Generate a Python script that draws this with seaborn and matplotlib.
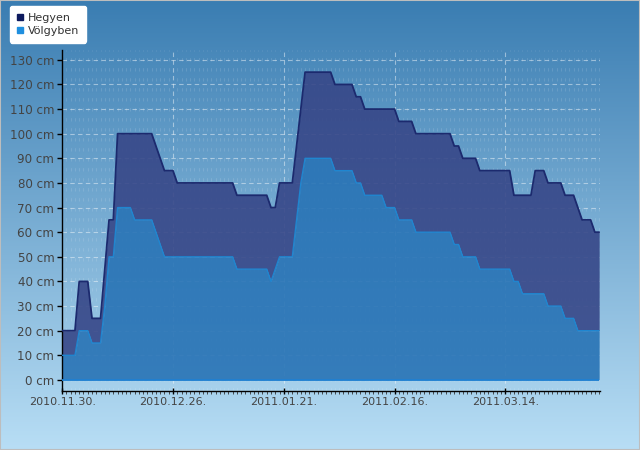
import numpy as np
import pandas as pd
import matplotlib
matplotlib.use("Agg")
import matplotlib.pyplot as plt
import matplotlib.dates as mdates
import seaborn as sns
from matplotlib.lines import Line2D
from matplotlib.patches import Rectangle
from matplotlib.colors import LinearSegmentedColormap

# napi hóvastagság (cm), 2010.11.30-tól
kezdo_datum = "2010-11-30"
hegyen = [20, 20, 20, 20, 40, 40, 40, 25, 25, 25, 45, 65, 65,
          100, 100, 100, 100, 100, 100, 100, 100, 100, 95, 90, 85, 85, 85,
          80, 80, 80, 80, 80, 80, 80, 80, 80, 80, 80, 80, 80, 80,
          75, 75, 75, 75, 75, 75, 75, 75, 70, 70, 80, 80, 80, 80, 95, 110,
          125, 125, 125, 125, 125, 125, 125, 120, 120, 120, 120, 120, 115, 115,
          110, 110, 110, 110, 110, 110, 110, 110, 105, 105, 105, 105,
          100, 100, 100, 100, 100, 100, 100, 100, 100, 95, 95, 90, 90, 90, 90,
          85, 85, 85, 85, 85, 85, 85, 85, 75, 75, 75, 75, 75, 85, 85, 85,
          80, 80, 80, 80, 75, 75, 75, 70, 65, 65, 65, 60, 60]
volgyben = [10, 10, 10, 10, 20, 20, 20, 15, 15, 15, 30, 50, 50,
            70, 70, 70, 70, 65, 65, 65, 65, 65, 60, 55,
            50, 50, 50, 50, 50, 50, 50, 50, 50, 50, 50, 50, 50, 50, 50, 50, 50,
            45, 45, 45, 45, 45, 45, 45, 45, 40, 45, 50, 50, 50, 50, 65, 80,
            90, 90, 90, 90, 90, 90, 90, 85, 85, 85, 85, 85, 80, 80,
            75, 75, 75, 75, 75, 70, 70, 70, 65, 65, 65, 65,
            60, 60, 60, 60, 60, 60, 60, 60, 60, 55, 55, 50, 50, 50, 50,
            45, 45, 45, 45, 45, 45, 45, 45, 40, 40, 35, 35, 35, 35, 35, 35,
            30, 30, 30, 30, 25, 25, 25, 20, 20, 20, 20, 20, 20]
tick_datumok = ["2010-11-30", "2010-12-26", "2011-01-21", "2011-02-16", "2011-03-14"]
y_ertekek = list(range(0, 131, 10))

datumok = pd.date_range(kezdo_datum, periods=len(hegyen), freq="D")
df = pd.DataFrame({"datum": datumok, "Hegyen": hegyen, "Völgyben": volgyben})

sns.set_theme(style="white")
plt.rcParams['font.family'] = ['DejaVu Sans']

fig = plt.figure(figsize=(6.4, 4.5), dpi=100)

# háttér színátmenet
bg = fig.add_axes([0, 0, 1, 1], zorder=-10)
cmap = LinearSegmentedColormap.from_list("hatter", ["#3a7db2", "#b8def5"])
bg.imshow(np.linspace(0, 1, 256).reshape(-1, 1), aspect="auto", cmap=cmap,
          extent=[0, 1, 0, 1])
bg.axis("off")

ax = fig.add_axes([62 / 640, 1 - 391 / 450, 538 / 640, 341 / 450])
ax.patch.set_alpha(0)

ax.fill_between(df["datum"], df["Völgyben"], df["Hegyen"], color="#374788",
                alpha=0.9, lw=0, zorder=2)
ax.fill_between(df["datum"], 0, df["Völgyben"], color="#2873b5",
                alpha=0.9, lw=0, zorder=2)
sns.lineplot(data=df, x="datum", y="Völgyben", color="#1f86d0", lw=1.0, ax=ax, zorder=4)
sns.lineplot(data=df, x="datum", y="Hegyen", color="#1c2a6e", lw=1.3, ax=ax, zorder=5)
ax.hlines(0, datumok[0], datumok[-1], color="#1f80d2", lw=1.3, zorder=4)

ax.set_xlim(datumok[0] - pd.Timedelta(hours=1), datumok[0] + pd.Timedelta(days=126.2))
ax.set_ylim(-4.5, 134)
ax.set_xlabel("")
ax.set_ylabel("")

ax.set_xticks(pd.to_datetime(tick_datumok))
ax.xaxis.set_major_formatter(mdates.DateFormatter("%Y.%m.%d."))
ax.xaxis.set_minor_locator(mdates.DayLocator())
ax.set_yticks(y_ertekek)
ax.set_yticklabels([f"{v} cm" for v in y_ertekek])

ax.set_axisbelow(True)
ax.grid(which="major", axis="both", color="white", alpha=0.45, ls=(0, (4, 3)), lw=0.8)
ax.grid(which="minor", axis="x", color="white", alpha=0.12, ls=(0, (3, 6)), lw=0.8)

for s in ["top", "right"]:
    ax.spines[s].set_visible(False)
for s in ["left", "bottom"]:
    ax.spines[s].set_color("black")
    ax.spines[s].set_linewidth(1)

ax.tick_params(axis="y", which="major", left=True, direction="out", length=3.5,
               width=1, color="black", labelsize=8.6, labelcolor="#444444", pad=2)
ax.tick_params(axis="x", which="major", bottom=True, direction="inout", length=5,
               width=1, color="black", labelsize=8, labelcolor="#444444", pad=2)
ax.tick_params(axis="x", which="minor", bottom=True, direction="out", length=2,
               width=0.6, color="#333333")

jelek = [Line2D([], [], marker="s", ls="", markersize=5, markerfacecolor="#0d1a5e",
                markeredgecolor="#0d1a5e"),
         Line2D([], [], marker="s", ls="", markersize=5, markerfacecolor="#1f8fdf",
                markeredgecolor="#1f8fdf")]
leg = fig.legend(jelek, ["Hegyen", "Völgyben"], loc="upper left",
                 bbox_to_anchor=(10 / 640, 1 - 6 / 450), frameon=True, fancybox=True,
                 facecolor="white", edgecolor="white", framealpha=1, fontsize=8,
                 handlelength=0.6, handletextpad=0.4, labelspacing=0.3,
                 borderpad=0.6, borderaxespad=0)
for t in leg.get_texts():
    t.set_color("#333333")

fig.patches.append(Rectangle((0, 0), 1, 1, transform=fig.transFigure, fill=False,
                             edgecolor="#bdbdbd", lw=1.5))

fig.savefig("out.png", dpi=100)
